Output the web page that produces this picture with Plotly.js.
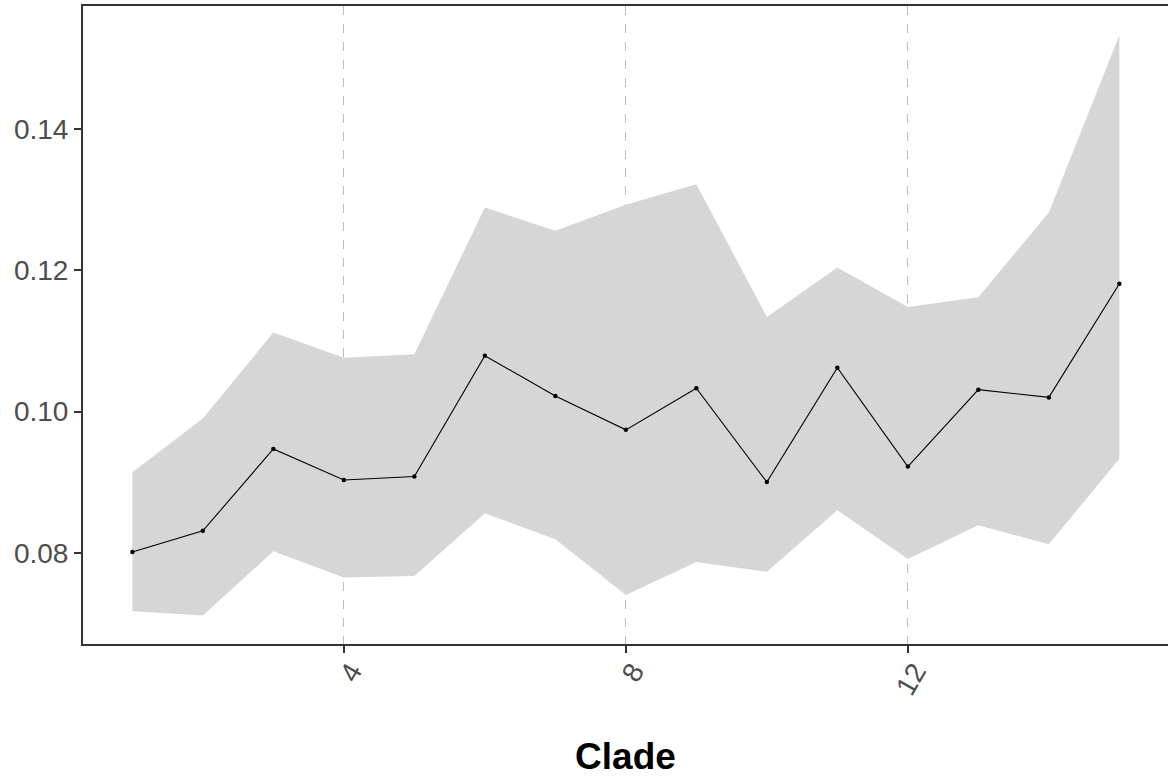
<!DOCTYPE html>
<html>
<head>
<meta charset="utf-8">
<script src="https://cdn.plot.ly/plotly-3.0.1.min.js"></script>
<style>html,body{margin:0;padding:0;background:#fff;}#chart{width:1168px;height:780px;}</style>
</head>
<body>
<div id="chart"></div>
<script>
// Clade index
const clade = [1, 2, 3, 4, 5, 6, 7, 8, 9, 10, 11, 12, 13, 14, 15];
// central estimate
const meanValue = [0.0801, 0.0831, 0.0947, 0.0903, 0.0908, 0.1079, 0.1022, 0.0974, 0.1033, 0.0900, 0.1062, 0.0922, 0.1031, 0.1020, 0.1181];
// ribbon bounds
const upperValue = [0.0914, 0.0990, 0.1112, 0.1076, 0.1081, 0.1289, 0.1256, 0.1293, 0.1322, 0.1134, 0.1204, 0.1148, 0.1162, 0.1282, 0.1533];
const lowerValue = [0.0717, 0.0711, 0.0802, 0.0765, 0.0767, 0.0856, 0.0819, 0.0740, 0.0787, 0.0773, 0.0860, 0.0791, 0.0839, 0.0812, 0.0933];
// axis ticks
const xTickValues = [4, 8, 12];
const xTickLabels = ["4", "8", "12"];
const yTickValues = [0.08, 0.10, 0.12, 0.14];
const yTickLabels = ["0.08", "0.10", "0.12", "0.14"];

const traces = [
  {
    x: clade, y: lowerValue, type: 'scatter', mode: 'lines',
    line: {width: 0, color: 'rgba(0,0,0,0)'}, hoverinfo: 'skip', showlegend: false
  },
  {
    x: clade, y: upperValue, type: 'scatter', mode: 'lines', fill: 'tonexty',
    fillcolor: '#d6d6d6', line: {width: 0, color: 'rgba(0,0,0,0)'}, hoverinfo: 'skip', showlegend: false
  },
  {
    x: clade, y: meanValue, type: 'scatter', mode: 'lines+markers',
    line: {color: '#000000', width: 1.1},
    marker: {color: '#000000', size: 4.5},
    showlegend: false
  }
];

const layout = {
  width: 1168, height: 780,
  margin: {l: 83, r: 0, t: 6, b: 136},
  paper_bgcolor: '#ffffff', plot_bgcolor: '#ffffff',
  showlegend: false,
  font: {family: 'Liberation Sans, Arial, sans-serif', color: '#4d4d4d'},
  xaxis: {
    range: [0.3, 15.69],
    tickmode: 'array', tickvals: xTickValues, ticktext: xTickLabels,
    tickangle: -60,
    tickfont: {size: 28, color: '#4d4d4d'},
    ticklabelshift: 7, ticklabelstandoff: -9,
    ticks: 'outside', ticklen: 7, tickwidth: 2, tickcolor: '#333333',
    showline: true, linecolor: '#333333', linewidth: 2, mirror: true,
    showgrid: true, gridcolor: '#bdbdbd', gridwidth: 1, griddash: 'dash',
    zeroline: false,
    title: {text: '<b>Clade</b>', font: {size: 37, color: '#000000'}, standoff: 44}
  },
  yaxis: {
    range: [0.06707, 0.15744],
    tickmode: 'array', tickvals: yTickValues, ticktext: yTickLabels,
    tickfont: {size: 28, color: '#4d4d4d'},
    ticks: 'outside', ticklen: 7, tickwidth: 2, tickcolor: '#333333',
    showline: true, linecolor: '#333333', linewidth: 2, mirror: false,
    showgrid: false, zeroline: false
  }
};

Plotly.newPlot('chart', traces, layout, {displayModeBar: false, staticPlot: true});
</script>
</body>
</html>
